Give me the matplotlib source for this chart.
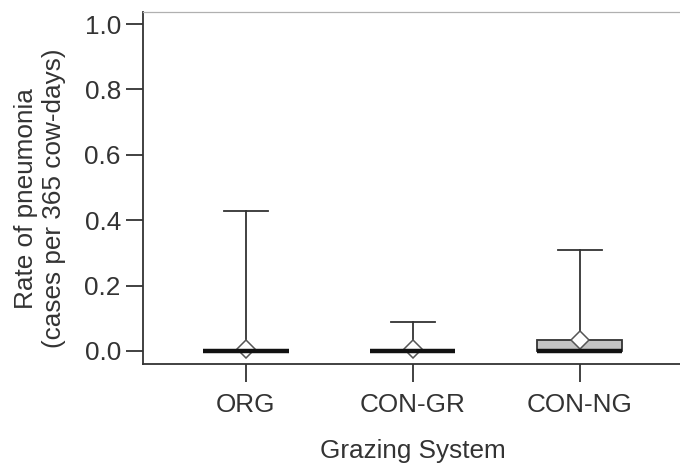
import numpy as np
import matplotlib
matplotlib.use("Agg")
from matplotlib import pyplot as plt

# data (rate per 365 cow-days)
groups = ["ORG", "CON-GR", "CON-NG"]
q1 = [0.0, 0.0, 0.0]
med = [0.0, 0.0, 0.0]
q3 = [0.0, 0.0, 0.034]
whislo = [0.0, 0.0, 0.0]
whishi = [0.428, 0.090, 0.309]
means = [0.005, 0.005, 0.033]
yticks = [0.0, 0.2, 0.4, 0.6, 0.8, 1.0]

plt.rcParams['font.family'] = ['Liberation Sans', 'DejaVu Sans']
dark = '#333333'
fs = 18.8

fig = plt.figure(figsize=(6.8, 4.63), dpi=100)
ax = fig.add_axes([143/680, 99/463, 537/680, 352/463])

stats = []
for i in range(len(groups)):
    stats.append(dict(label=groups[i], q1=q1[i], med=med[i], q3=q3[i],
                      whislo=whislo[i], whishi=whishi[i], mean=means[i], fliers=[]))

bp = ax.bxp(stats, positions=[1, 2, 3], widths=0.51, capwidths=0.265,
            patch_artist=True, showmeans=True,
            boxprops=dict(edgecolor=dark, linewidth=1.3, facecolor='#c4c4c4'),
            medianprops=dict(color='#111111', linewidth=3.2, solid_capstyle='butt', zorder=3),
            whiskerprops=dict(color=dark, linewidth=1.3),
            capprops=dict(color=dark, linewidth=1.3),
            meanprops=dict(marker='D', markerfacecolor='white', markeredgecolor='#555555',
                           markersize=9, markeredgewidth=1.1, zorder=2.8))

ax.set_xlim(0.383, 3.6)
ax.set_ylim(-0.04, 1.037)
ax.set_yticks(yticks)
ax.set_yticklabels(["%.1f" % v for v in yticks])

for s in ['left', 'bottom']:
    ax.spines[s].set_color(dark)
    ax.spines[s].set_linewidth(1.3)
ax.spines['right'].set_visible(False)
ax.spines['top'].set_color('#b0b0b0')
ax.spines['top'].set_linewidth(0.9)

ax.tick_params(axis='y', length=12, width=1.3, color=dark, pad=4, labelsize=fs, labelcolor=dark)
ax.tick_params(axis='x', length=13, width=1.3, color=dark, pad=8, labelsize=fs, labelcolor=dark)

ax.set_ylabel("Rate of pneumonia\n(cases per 365 cow-days)", fontsize=fs, color=dark)
ax.yaxis.set_label_coords(-0.143, 0.47)
ax.set_xlabel("Grazing System", fontsize=fs, color=dark)
ax.xaxis.set_label_coords(0.503, -0.212)

fig.savefig("out.png", dpi=100)
